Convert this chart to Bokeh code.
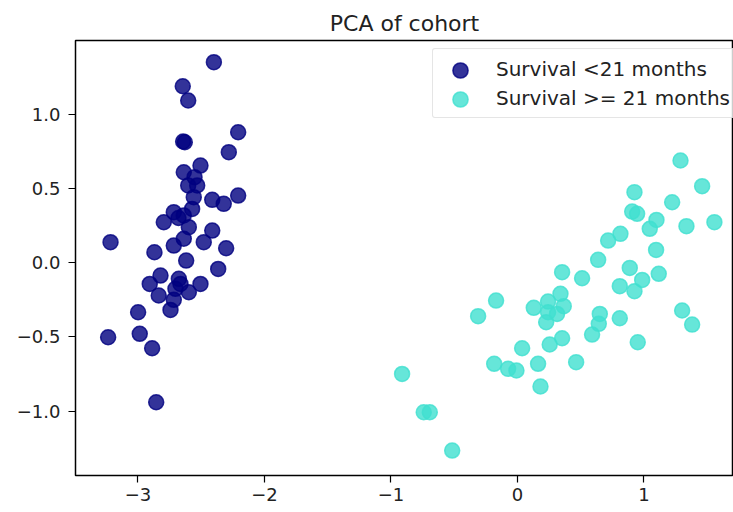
from bokeh.plotting import figure
from bokeh.models import FixedTicker, Legend, LegendItem, Range1d
from bokeh.embed import file_html
from bokeh.resources import INLINE

# Survival < 21 months (PC1, PC2)
short_x = [-2.40, -2.646, -2.603, -2.208, -2.643, -2.630, -2.282, -2.506, -2.638, -2.553,
           -2.603, -2.532, -2.559, -2.413, -2.322, -2.208, -2.572, -2.717, -2.796, -2.638,
           -2.680, -2.598, -2.413, -2.638, -2.717, -2.480, -2.303, -3.217, -2.870, -2.619,
           -2.366, -2.822, -2.907, -2.677, -2.704, -2.598, -2.506, -2.836, -2.717, -2.743,
           -2.664, -2.999, -3.236, -2.986, -2.888, -2.856]
short_y = [1.349, 1.187, 1.091, 0.877, 0.815, 0.810, 0.743, 0.653, 0.608, 0.575,
           0.519, 0.519, 0.440, 0.422, 0.395, 0.451, 0.361, 0.339, 0.271, 0.317,
           0.300, 0.238, 0.215, 0.160, 0.114, 0.137, 0.096, 0.137, 0.069, 0.013,
           -0.043, -0.088, -0.144, -0.110, -0.177, -0.200, -0.144, -0.222, -0.251, -0.319,
           -0.144, -0.335, -0.503, -0.480, -0.577, -0.941]

# Survival >= 21 months (PC1, PC2)
long_x = [1.289, 1.460, 0.925, 1.223, 0.907, 0.946, 1.099, 1.046, 1.336, 1.557,
          0.814, 0.717, 1.096, 0.638, 0.353, 0.511, 0.888, 1.117, 0.986, 0.809,
          0.925, -0.169, -0.311, 0.340, 0.242, 0.129, 0.366, 0.242, 0.313, 0.227,
          0.651, 1.302, 0.809, 1.381, 0.643, 0.590, 0.353, 0.255, 0.037, 0.951,
          0.464, 0.163, -0.184, -0.074, -0.008, 0.182, -0.912, -0.741, -0.693, -0.516]
long_y = [0.687, 0.514, 0.474, 0.406, 0.343, 0.328, 0.287, 0.227, 0.245, 0.272,
          0.193, 0.148, 0.085, 0.018, -0.065, -0.106, -0.036, -0.076, -0.117, -0.159,
          -0.193, -0.256, -0.361, -0.211, -0.263, -0.305, -0.294, -0.335, -0.346, -0.402,
          -0.346, -0.323, -0.375, -0.418, -0.413, -0.485, -0.510, -0.552, -0.577, -0.537,
          -0.671, -0.682, -0.682, -0.716, -0.727, -0.835, -0.750, -1.008, -1.008, -1.266]

series_names = ["Survival <21 months", "Survival >= 21 months"]
series_colors = ["navy", "turquoise"]

x_ticks = [-3, -2, -1, 0, 1]
x_tick_labels = ["\u22123", "\u22122", "\u22121", "0", "1"]
y_ticks = [-1.0, -0.5, 0.0, 0.5, 1.0]
y_tick_labels = ["\u22121.0", "\u22120.5", "0.0", "0.5", "1.0"]

FONT = "DejaVu Sans"
TXT = "#222222"

p = figure(width=733, height=512, output_backend="svg", toolbar_location=None,
           x_range=Range1d(-3.494, 1.708), y_range=Range1d(-1.434, 1.495),
           min_border_left=75, min_border_right=0, min_border_top=40, min_border_bottom=37,
           title="PCA of cohort")
p.title.text_font = FONT
p.title.text_font_size = "22px"
p.title.text_font_style = "normal"
p.title.text_color = TXT
p.title.align = "center"

p.xgrid.visible = False
p.ygrid.visible = False
p.outline_line_color = "black"
p.outline_line_width = 1.5
p.background_fill_color = "white"
p.border_fill_color = "white"

for ax in (p.xaxis[0], p.yaxis[0]):
    ax.axis_line_color = None
    ax.major_tick_out = 7
    ax.major_tick_in = 0
    ax.minor_tick_out = 0
    ax.minor_tick_in = 0
    ax.major_tick_line_color = "black"
    ax.major_tick_line_width = 1.2
    ax.major_label_text_font = FONT
    ax.major_label_text_font_size = "18px"
    ax.major_label_text_color = TXT

p.xaxis[0].ticker = FixedTicker(ticks=x_ticks)
p.xaxis[0].major_label_overrides = dict(zip(x_ticks, x_tick_labels))
p.xaxis[0].major_label_standoff = 5
p.yaxis[0].ticker = FixedTicker(ticks=y_ticks)
p.yaxis[0].major_label_overrides = dict(zip(y_ticks, y_tick_labels))
p.yaxis[0].major_label_standoff = 8

renderers = []
for xs, ys, c in [(short_x, short_y, series_colors[0]), (long_x, long_y, series_colors[1])]:
    r = p.scatter(xs, ys, size=15, fill_color=c, fill_alpha=0.8,
                  line_color=c, line_alpha=0.8, line_width=1.5)
    renderers.append(r)

# invisible stand-ins so the boxed legend carries only the labels
blank = p.scatter([], [], size=1, fill_alpha=0, line_alpha=0)

legend = Legend(items=[LegendItem(label=n, renderers=[blank]) for n in series_names],
                location=(357, 357))
legend.label_text_font = FONT
legend.label_text_font_size = "20px"
legend.label_text_color = TXT
legend.glyph_width = 40
legend.glyph_height = 29
legend.label_height = 29
legend.label_standoff = 18
legend.spacing = 0
legend.padding = 5
legend.margin = 0
legend.border_line_color = "#cccccc"
legend.border_line_width = 1
legend.border_radius = 3
legend.background_fill_color = "white"
legend.background_fill_alpha = 0.8
p.add_layout(legend, "center")

# full-size legend markers, one per series
for r, ypos in zip(renderers, [386, 357]):
    mk = Legend(items=[LegendItem(label=" ", renderers=[r])], location=(366, ypos))
    mk.glyph_width = 38
    mk.glyph_height = 38
    mk.label_height = 38
    mk.label_standoff = 0
    mk.label_text_font_size = "1px"
    mk.padding = 0
    mk.margin = 0
    mk.spacing = 0
    mk.border_line_color = None
    mk.background_fill_alpha = 0
    p.add_layout(mk, "center")

open("out.html", "w").write(file_html(p, INLINE))
